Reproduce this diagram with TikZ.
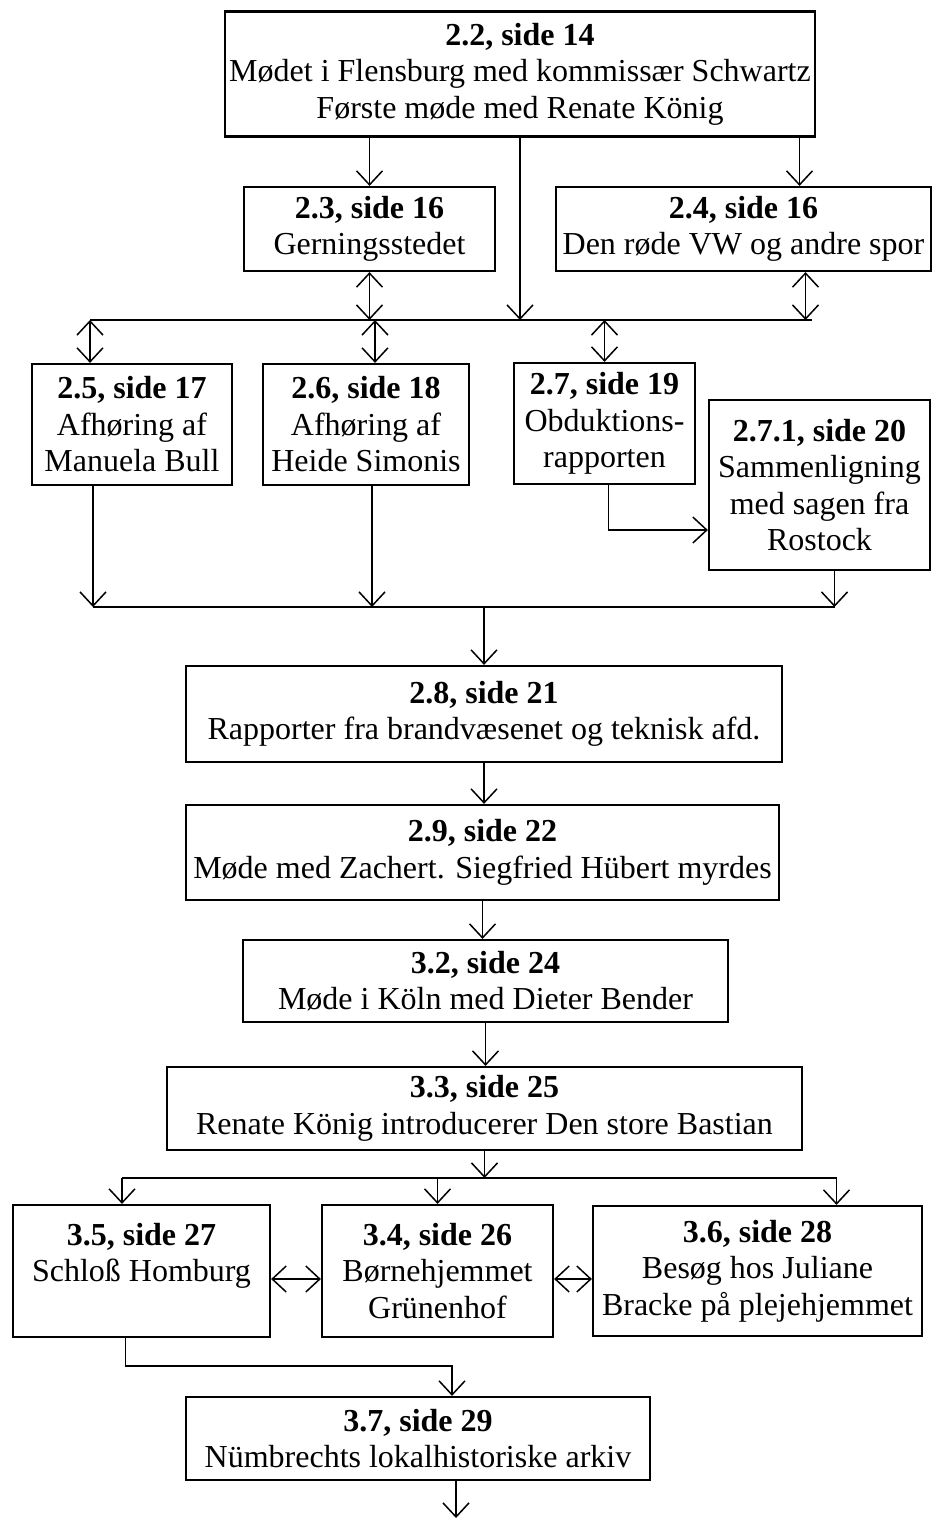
\documentclass[tikz,border=0pt]{standalone}
\usepackage{fontspec}
\setmainfont{Liberation Serif}
\usetikzlibrary{arrows.meta,positioning}
\tikzset{
  sect/.style={draw, line width=2.2pt, align=center, inner sep=0pt,
    font=\fontsize{32}{36.5}\selectfont},
  link/.style={line width=1.5pt},
  arr/.style={link, -{Straight Barb[length=14pt,width=26pt]}},
  darr/.style={link, {Straight Barb[length=14pt,width=26pt]}-{Straight Barb[length=14pt,width=26pt]}}
}
\begin{document}
\begin{tikzpicture}[x=1pt,y=-1pt]
        \useasboundingbox (0,0) rectangle (932,1520);

        \node[sect, minimum width=590, minimum height=125] (s22) at (520,74) {\textbf{2.2, side 14}\\Mødet i Flensburg med kommissær Schwartz\\Første møde med Renate König};
        \node[sect, minimum width=251, minimum height=84] (s23) at (369.5,229) {\textbf{2.3, side 16}\\Gerningsstedet};
        \node[sect, minimum width=375, minimum height=84] (s24) at (743.5,229) {\textbf{2.4, side 16}\\Den røde VW og andre spor};
        \node[sect, minimum width=200, minimum height=121] (s25) at (132,424.5) {\textbf{2.5, side 17}\\Afhøring af\\Manuela Bull};
        \node[sect, minimum width=206, minimum height=121] (s26) at (366,424.5) {\textbf{2.6, side 18}\\Afhøring af\\Heide Simonis};
        \node[sect, minimum width=181, minimum height=121] (s27) at (604.5,423.5) {\textbf{2.7, side 19}\\Obduktions-\\rapporten};
        \node[sect, minimum width=221, minimum height=170] (s271) at (819.5,485) {\textbf{2.7.1, side 20}\\Sammenligning\\med sagen fra\\Rostock};
        \node[sect, minimum width=596, minimum height=96] (s28) at (484,714) {\textbf{2.8, side 21}\\Rapporter fra brandvæsenet og teknisk afd.};
        \node[sect, minimum width=593, minimum height=95] (s29) at (482.5,852.5) {\textbf{2.9, side 22}\\Møde med Zachert. Siegfried Hübert myrdes};
        \node[sect, minimum width=485, minimum height=82] (s32) at (485.5,981) {\textbf{3.2, side 24}\\Møde i Köln med Dieter Bender};
        \node[sect, minimum width=635, minimum height=83] (s33) at (484.5,1108.5) {\textbf{3.3, side 25}\\Renate König introducerer Den store Bastian};
        \node[sect, minimum width=257, minimum height=132] (s35) at (141.5,1271) {\textbf{3.5, side 27}\\Schloß Homburg\\\phantom{Grünenhof}};
        \node[sect, minimum width=231, minimum height=132] (s34) at (437.5,1271) {\textbf{3.4, side 26}\\Børnehjemmet\\Grünenhof};
        \node[sect, minimum width=329, minimum height=130] (s36) at (757.5,1271) {\textbf{3.6, side 28}\\Besøg hos Juliane\\Bracke på plejehjemmet};
        \node[sect, minimum width=464, minimum height=83] (s37) at (418,1438.5) {\textbf{3.7, side 29}\\Nümbrechts lokalhistoriske arkiv};

        \coordinate (busA) at (90,320);
        \coordinate (busB) at (93,607);
        \coordinate (busC) at (122,1178);
        \coordinate (endD) at (456,1518);

        \draw[arr] (s22.south -| s23.north) -- (s23.north);
        \draw[arr] ([xshift=56]s24.north |- s22.south) -- ([xshift=56]s24.north);
        \draw[arr] (s22.south) -- (s22.south |- busA);
        \draw[darr] (s23.south) -- (s23.south |- busA);
        \draw[darr] ([xshift=62]s24.south) -- ([xshift=62]s24.south |- busA);
        \draw[link] (busA) -- ([xshift=68]s24.south |- busA);
        \draw[darr] (busA) -- (busA |- s25.north);
        \draw[darr] ([xshift=9]s26.north |- busA) -- ([xshift=9]s26.north);
        \draw[darr] (s27.north |- busA) -- (s27.north);
        \draw[arr] ([xshift=4]s27.south) |- ([yshift=-45]s271.west);

        \draw[arr] ([xshift=-39]s25.south) -- ([xshift=-39]s25.south |- busB);
        \draw[arr] ([xshift=6]s26.south) -- ([xshift=6]s26.south |- busB);
        \draw[arr] ([xshift=15]s271.south) -- ([xshift=15]s271.south |- busB);
        \draw[link] (busB) -- ([xshift=15]s271.south |- busB);
        \draw[arr] (s28.north |- busB) -- (s28.north);
        \draw[arr] (s28.south) -- (s28.south |- s29.north);
        \draw[arr] (s29.south) -- (s29.south |- s32.north);
        \draw[arr] (s32.south) -- (s32.south |- s33.north);

        \draw[arr] (s33.south) -- (s33.south |- busC);
        \draw[link] (busC) -- ([xshift=79]s36.north |- busC);
        \draw[arr] (busC) -- (busC |- s35.north);
        \draw[arr] (s34.north |- busC) -- (s34.north);
        \draw[arr] ([xshift=79]s36.north |- busC) -- ([xshift=79]s36.north);
        \draw[darr] ([yshift=-8]s35.east) -- ([yshift=-8]s34.west);
        \draw[darr] ([yshift=-8]s34.east) -- ([yshift=-8]s36.west);
        \draw[arr] ([xshift=-16]s35.south) -- ++(0,28) -| ([xshift=34]s37.north);
        \draw[arr] (s37.south -| endD) -- (endD);
\end{tikzpicture}
\end{document}
